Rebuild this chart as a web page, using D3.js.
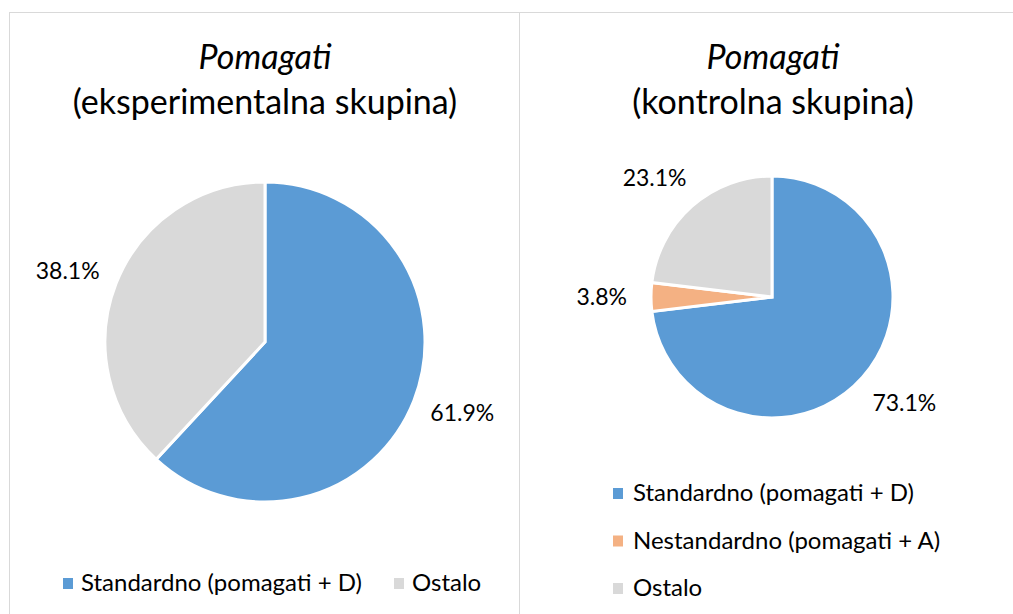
<!DOCTYPE html>
<html>
<head>
<meta charset="utf-8">
<script src="https://cdn.jsdelivr.net/npm/d3@7"></script>
<style>
  body { margin: 0; background: #fff; }
  svg { display: block; font-family: Lato, "Open Sans", sans-serif; }
</style>
</head>
<body>
<svg width="1013" height="614"></svg>
<script>
// data
let categories = ["Standardno (pomagati + D)", "Nestandardno (pomagati + A)", "Ostalo"];
let colors = ["#5b9bd5", "#f4b183", "#d9d9d9"];
let expValues = [61.9, 0, 38.1];
let ctrlValues = [73.1, 3.8, 23.1];
let titles = [["Pomagati", "(eksperimentalna skupina)"], ["Pomagati", "(kontrolna skupina)"]];

let svg = d3.select("svg");

let color = d3.scaleOrdinal().domain(categories).range(colors);

// panel frames
svg.append("rect")
    .attr("x", 9.5).attr("y", 12.5)
    .attr("width", 510).attr("height", 700)
    .attr("fill", "none").attr("stroke", "#d9d9d9");
svg.append("rect")
    .attr("x", 519.5).attr("y", 12.5)
    .attr("width", 520).attr("height", 700)
    .attr("fill", "none").attr("stroke", "#d9d9d9");

function drawTitle(lines, cx) {
    svg.append("text")
        .attr("x", cx).attr("y", 69)
        .attr("text-anchor", "middle")
        .attr("font-size", 34)
        .attr("font-style", "italic")
        .text(lines[0]);
    svg.append("text")
        .attr("x", cx).attr("y", 114)
        .attr("text-anchor", "middle")
        .attr("font-size", 34)
        .text(lines[1]);
}

function drawPie(values, cx, cy, r, gap) {
    let data = categories.map((c, i) => ({ name: c, value: values[i] }));
    let pie = d3.pie().sort(null).value(d => d.value);
    let arc = d3.arc().innerRadius(0).outerRadius(r);
    let arcs = pie(data).filter(d => d.data.value > 0);

    let g = svg.append("g").attr("transform", "translate(" + cx + "," + cy + ")");

    g.selectAll("path")
        .data(arcs)
        .enter().append("path")
        .attr("d", arc)
        .attr("fill", d => color(d.data.name))
        .attr("stroke", "#fff")
        .attr("stroke-width", 3)
        .attr("stroke-linejoin", "miter");

    // labels outside end, box pushed outward from the edge
    g.selectAll("text.lbl")
        .data(arcs)
        .enter().append("text")
        .attr("class", "lbl")
        .attr("font-size", 23)
        .attr("text-anchor", "middle")
        .text(d => d3.format(".1f")(d.data.value) + "%")
        .each(function (d) {
            let a = (d.startAngle + d.endAngle) / 2;
            let w = this.getComputedTextLength();
            let h = 28;
            let s = Math.sin(a), c = -Math.cos(a);
            let x = (r + gap) * s + w / 2 * s;
            let y = (r + gap) * c + h / 2 * c;
            d3.select(this).attr("x", x).attr("y", y + 8);
        });
}

drawTitle(titles[0], 265);
drawTitle(titles[1], 773);

drawPie(expValues, 265, 342, 160, 20);
drawPie(ctrlValues, 772, 297, 121, 24);

// legend left (horizontal)
let leftItems = [categories[0], categories[2]];
let leftX = [63, 394];
leftItems.forEach((c, i) => {
    svg.append("rect")
        .attr("x", leftX[i]).attr("y", 578)
        .attr("width", 10).attr("height", 11)
        .attr("fill", color(c));
    svg.append("text")
        .attr("x", leftX[i] + 18).attr("y", 591)
        .attr("font-size", 24)
        .text(c);
});

// legend right (vertical)
let legendY = d3.scalePoint().domain(categories).range([493, 588]);
categories.forEach(c => {
    svg.append("rect")
        .attr("x", 613).attr("y", legendY(c) - 5)
        .attr("width", 10).attr("height", 11)
        .attr("fill", color(c));
    svg.append("text")
        .attr("x", 633).attr("y", legendY(c) + 8)
        .attr("font-size", 24)
        .text(c);
});
</script>
</body>
</html>
